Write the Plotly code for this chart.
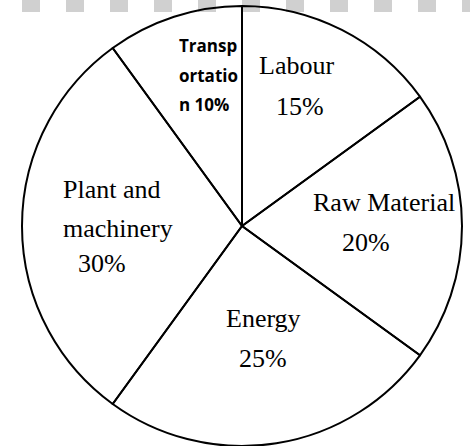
import plotly.graph_objects as go

# ---- data ----
categories = ["Labour", "Raw Material", "Energy", "Plant and machinery", "Transportation"]
shares = [15, 20, 25, 30, 10]

# ---- layout helpers (positions/styles, not data) ----
W, H = 470, 446
# how each label is broken into lines: ("words", n) keeps first n words on line 1,
# ("chars", sizes) chops the full label into chunks of the given sizes
wrap_rules = [("pct", None), ("pct", None), ("pct", None), ("words", 2), ("chars", [6, 7])]
# per-line anchor positions in pixels (x, y, xanchor)
line_pos = [
    [(296, 66, "center"), (300, 106, "center")],
    [(384, 202, "center"), (366, 242, "center")],
    [(263, 318, "center"), (263, 358, "center")],
    [(61, 189, "left"), (61, 228, "left"), (76, 263, "left")],
    [(177, 46, "left"), (177, 75, "left"), (177, 104, "left")],
]
serif = dict(family="Liberation Serif, Times New Roman, serif", size=26, color="black")
bold_sans = dict(family="Open Sans, sans-serif", size=17, color="black", weight="bold")


def label_lines(cat, val, rule):
    pct = f"{val}%"
    kind, arg = rule
    if kind == "pct":
        return [cat, pct]
    if kind == "words":
        w = cat.split(" ")
        return [" ".join(w[:arg]), " ".join(w[arg:]), pct]
    full = f"{cat} {pct}"
    out, i = [], 0
    for n in arg:
        out.append(full[i:i + n])
        i += n
    out.append(full[i:])
    return out


fig = go.Figure(
    go.Pie(
        labels=categories,
        values=shares,
        sort=False,
        direction="clockwise",
        rotation=0,
        textinfo="none",
        marker=dict(colors=["rgba(255,255,255,0)"] * len(categories),
                    line=dict(color="black", width=2)),
        domain=dict(x=[22 / W, 462 / W], y=[0, 1 - 6 / H]),
        showlegend=False,
        hovertemplate="%{label}: %{value}%<extra></extra>",
    )
)

annotations = []
for k, (cat, val) in enumerate(zip(categories, shares)):
    lines = label_lines(cat, val, wrap_rules[k])
    font = bold_sans if wrap_rules[k][0] == "chars" else serif
    for txt, (px, py, xa) in zip(lines, line_pos[k]):
        annotations.append(dict(
            text=txt, x=px / W, y=1 - py / H, xref="paper", yref="paper",
            xanchor=xa, yanchor="middle", showarrow=False, font=font,
        ))

# decorative dashed band across the top
shapes = []
x0 = 22
while x0 < W:
    shapes.append(dict(type="rect", xref="paper", yref="paper",
                       x0=x0 / W, x1=min(x0 + 18, W) / W, y0=1 - 12 / H, y1=1,
                       fillcolor="#d0d0d0", line=dict(width=0), layer="below"))
    x0 += 44

fig.update_layout(
    width=W, height=H,
    margin=dict(l=0, r=0, t=0, b=0),
    paper_bgcolor="white", plot_bgcolor="white",
    annotations=annotations,
    shapes=shapes,
)

fig.write_html("out.html", config={"displayModeBar": False},
               post_script="document.body.style.margin='0';")
